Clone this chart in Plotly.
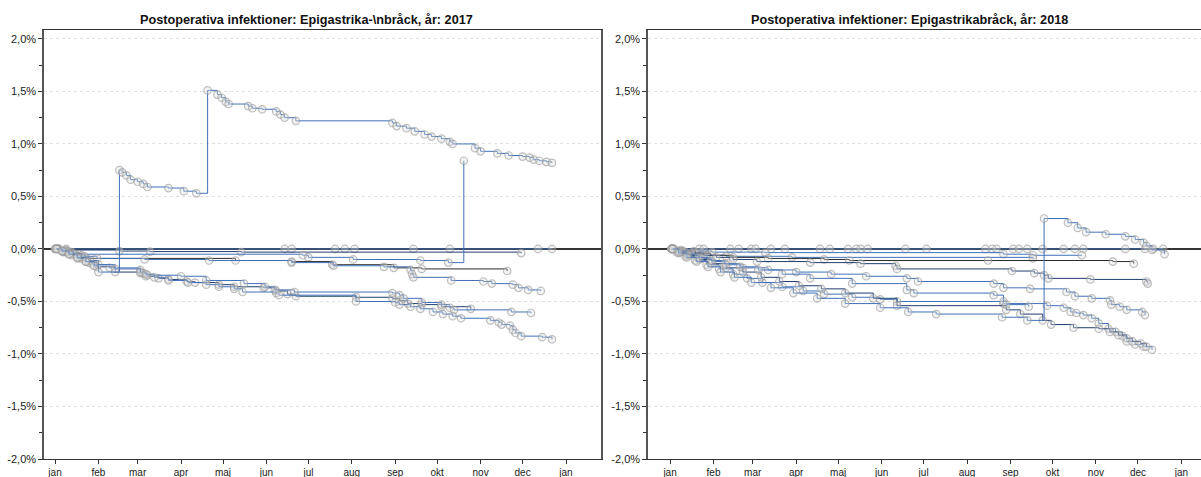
import pandas as pd
import plotly.graph_objects as go

# ---------------- data: 2017 panel (day of year, value in %) ----------------
L0_days = [0, 8, 164, 169, 200, 207, 214, 256, 282, 345, 355]
L0_vals = [0.0, 0.0, 0.0, 0.0, 0.0, 0.0, 0.0, 0.0, 0.0, 0.0, 0.0]

LA_days = [1, 5, 10, 16, 22, 28, 31, 46, 48, 51, 54, 59, 63, 66, 81, 92, 101,
           109, 116, 119, 122, 124, 138, 141, 148, 158, 161, 164, 172,
           241, 244, 251, 257, 264, 269, 276, 282, 284,
           300, 304, 316, 324, 334, 339, 342, 346, 351, 355]
LA_vals = [0.0, -0.02, -0.05, -0.08, -0.12, -0.16, -0.22,
           0.75, 0.73, 0.70, 0.66, 0.64, 0.62, 0.59, 0.58, 0.55, 0.53,
           1.51, 1.47, 1.44, 1.40, 1.38, 1.36, 1.34, 1.33, 1.31, 1.28, 1.25, 1.22,
           1.20, 1.17, 1.15, 1.12, 1.09, 1.07, 1.05, 1.02, 1.00,
           0.96, 0.93, 0.91, 0.89, 0.88, 0.87, 0.85, 0.84, 0.83, 0.82]

LB_days = [0, 8, 46, 68, 133, 333]
LB_vals = [0.0, -0.01, -0.02, -0.025, -0.03, -0.04]

LC_days = [3, 9, 12, 17, 177, 181, 213, 261, 281, 292]
LC_vals = [0.0, -0.02, -0.03, -0.05, -0.06, -0.08, -0.10, -0.11, -0.13, 0.84]

LD_days = [2, 6, 12, 19, 22, 129, 169, 198, 242, 262, 323]
LD_vals = [0.0, -0.02, -0.04, -0.06, -0.09, -0.11, -0.12, -0.15, -0.18, -0.19, -0.21]

LE_days = [2, 8, 14, 21, 30, 64, 110, 169, 199, 235, 254, 255, 256, 283, 306,
           312, 327, 331, 338, 347]
LE_vals = [0.0, -0.03, -0.05, -0.07, -0.09, -0.10, -0.11, -0.13, -0.16, -0.17,
           -0.20, -0.24, -0.27, -0.30, -0.31, -0.33, -0.34, -0.37, -0.39, -0.40]

LF_days = [1, 6, 12, 18, 24, 30, 43, 61, 65, 74, 81, 94, 100, 117, 128, 149,
           158, 166, 172, 215, 241, 246, 252, 262, 276, 297]
LF_vals = [0.0, -0.03, -0.06, -0.09, -0.13, -0.17, -0.22, -0.23, -0.26, -0.28,
           -0.29, -0.31, -0.32, -0.34, -0.36, -0.37, -0.40, -0.43, -0.45, -0.46,
           -0.47, -0.49, -0.52, -0.53, -0.55, -0.57]

LG_days = [2, 7, 13, 19, 25, 31, 39, 61, 63, 66, 90, 108, 135, 150, 157, 171,
           241, 246, 249, 262, 276, 282, 285, 326, 340]
LG_vals = [0.0, -0.02, -0.05, -0.08, -0.11, -0.15, -0.18, -0.20, -0.23, -0.25,
           -0.26, -0.30, -0.33, -0.36, -0.39, -0.41, -0.42, -0.44, -0.47, -0.51,
           -0.53, -0.56, -0.58, -0.60, -0.61]

LH_days = [1, 5, 10, 16, 22, 27, 43, 61, 65, 71, 81, 95, 108, 117, 128, 134,
           158, 160, 215, 243, 246, 254, 261, 270, 277, 284, 290,
           311, 317, 319, 325, 327, 329, 333, 348, 355]
LH_vals = [0.0, -0.02, -0.05, -0.09, -0.12, -0.15, -0.19, -0.22, -0.24, -0.27,
           -0.30, -0.32, -0.34, -0.36, -0.38, -0.41, -0.42, -0.44, -0.50, -0.51,
           -0.53, -0.55, -0.57, -0.60, -0.62, -0.64, -0.66,
           -0.68, -0.70, -0.72, -0.73, -0.77, -0.80, -0.83, -0.84, -0.86]

# ---------------- data: 2018 panel ----------------
R0_days = [1, 21, 24, 43, 49, 58, 61, 72, 82, 107, 114, 127, 133, 136, 141, 168,
           183, 225, 230, 233, 245, 249, 255, 266, 281, 289, 295, 325, 339, 345, 352]
R0_vals = [0.0] * len(R0_days)

RA_days = [1, 8, 17, 30, 68, 238, 259, 294]
RA_vals = [0.0, -0.01, -0.02, -0.03, -0.035, -0.05, -0.06, -0.06]

RB_days = [2, 6, 11, 18, 26, 40, 87, 259]
RB_vals = [0.0, -0.02, -0.03, -0.05, -0.06, -0.07, -0.08, -0.09]

RC_days = [2, 9, 18, 29, 45, 70, 110, 128, 227, 316, 331]
RC_vals = [0.0, -0.02, -0.04, -0.06, -0.08, -0.09, -0.10, -0.11, -0.11, -0.12, -0.14]

RD_days = [2, 6, 12, 19, 27, 36, 46, 58, 72, 88, 105, 125, 150, 170, 190, 237, 255,
           267, 284, 291, 297, 311, 325, 332, 338, 340, 344, 353]
RD_vals = [0.0, -0.04, -0.08, -0.12, -0.17, -0.22, -0.27, -0.32, -0.37, -0.42,
           -0.47, -0.52, -0.56, -0.60, -0.62, -0.65, -0.68,
           0.29, 0.25, 0.20, 0.16, 0.14, 0.12, 0.09, 0.06, 0.03, -0.01, -0.05]

RE_days = [3, 8, 15, 24, 33, 45, 62, 100, 136, 161, 162, 244, 260, 267, 270, 300,
           340, 341]
RE_vals = [0.0, -0.02, -0.04, -0.06, -0.08, -0.10, -0.12, -0.13, -0.14, -0.16,
           -0.19, -0.21, -0.23, -0.25, -0.28, -0.29, -0.31, -0.33]

RF_days = [2, 7, 14, 22, 30, 40, 52, 70, 90, 115, 140, 169, 177, 231, 238, 257,
           283, 289, 301, 314, 315, 321, 326, 337, 339]
RF_vals = [0.0, -0.03, -0.06, -0.09, -0.12, -0.15, -0.18, -0.20, -0.22, -0.24,
           -0.26, -0.28, -0.31, -0.33, -0.37, -0.38, -0.41, -0.45, -0.47, -0.49,
           -0.53, -0.55, -0.58, -0.60, -0.63]

RG_days = [1, 5, 11, 18, 26, 35, 45, 55, 66, 80, 95, 110, 130, 150, 162, 238,
           269, 281, 286, 290, 295, 301, 306, 313, 318, 323, 326, 332, 338, 344]
RG_vals = [0.0, -0.03, -0.07, -0.11, -0.15, -0.19, -0.24, -0.28, -0.32, -0.36,
           -0.40, -0.43, -0.46, -0.48, -0.50, -0.52, -0.54, -0.56, -0.60, -0.61,
           -0.63, -0.66, -0.71, -0.76, -0.79, -0.83, -0.88, -0.91, -0.93, -0.96]

RH_days = [2, 7, 13, 21, 30, 40, 52, 65, 78, 92, 108, 125, 145, 162, 240, 250,
           266, 272, 288, 306, 314, 320, 326, 330, 336, 340]
RH_vals = [0.0, -0.03, -0.06, -0.10, -0.14, -0.18, -0.22, -0.27, -0.31, -0.35,
           -0.38, -0.42, -0.47, -0.54, -0.58, -0.62, -0.68, -0.72, -0.75, -0.76,
           -0.79, -0.82, -0.85, -0.88, -0.90, -0.93]

RI_days = [1, 6, 12, 20, 29, 39, 50, 63, 80, 100, 130, 169, 174, 231, 238, 240, 256]
RI_vals = [0.0, -0.02, -0.05, -0.08, -0.11, -0.14, -0.17, -0.20, -0.24, -0.28,
           -0.33, -0.39, -0.42, -0.44, -0.50, -0.53, -0.55]

# tick labels
MONTHS = ["jan", "feb", "mar", "apr", "maj", "jun", "jul", "aug", "sep", "okt",
          "nov", "dec", "jan"]
Y_TICKS = [-2.0, -1.5, -1.0, -0.5, 0.0, 0.5, 1.0, 1.5, 2.0]
Y_LABELS = ["-2,0%", "-1,5%", "-1,0%", "-0,5%", "0,0%", "0,5%", "1,0%", "1,5%", "2,0%"]
Y_MINOR = [-1.75, -1.25, -0.75, -0.25, 0.25, 0.75, 1.25, 1.75]

TITLE_2017 = "Postoperativa infektioner: Epigastrika-\\nbråck, år: 2017"
TITLE_2018 = "Postoperativa infektioner: Epigastrikabråck, år: 2018"

# ---------------- styling ----------------
BLUE = "#3f70b8"
NAVY = "#1f3c70"
DARK = "#2a2a2a"
W, H = 1201, 477

left_series = [
    (L0_days, L0_vals, BLUE), (LB_days, LB_vals, NAVY), (LC_days, LC_vals, BLUE),
    (LD_days, LD_vals, DARK), (LE_days, LE_vals, BLUE), (LF_days, LF_vals, NAVY),
    (LG_days, LG_vals, BLUE), (LH_days, LH_vals, BLUE), (LA_days, LA_vals, BLUE),
]
right_series = [
    (R0_days, R0_vals, BLUE), (RA_days, RA_vals, BLUE), (RB_days, RB_vals, BLUE),
    (RC_days, RC_vals, DARK), (RE_days, RE_vals, NAVY), (RF_days, RF_vals, BLUE),
    (RG_days, RG_vals, BLUE), (RH_days, RH_vals, NAVY), (RI_days, RI_vals, BLUE),
    (RD_days, RD_vals, BLUE),
]


def to_dates(year, days):
    return pd.Timestamp(f"{year}-01-01") + pd.to_timedelta(days, unit="D")


fig = go.Figure()
marker = dict(symbol="circle", size=7.5, color="rgba(220,220,220,0.35)",
              line=dict(color="rgba(150,150,150,0.6)", width=1.2))

for days, vals, col in left_series:
    fig.add_trace(go.Scatter(x=to_dates(2017, days), y=vals, mode="lines+markers",
                             line=dict(shape="hv", color=col, width=1), marker=marker,
                             xaxis="x", yaxis="y", hoverinfo="skip", showlegend=False))
for days, vals, col in right_series:
    fig.add_trace(go.Scatter(x=to_dates(2018, days), y=vals, mode="lines+markers",
                             line=dict(shape="hv", color=col, width=1), marker=marker,
                             xaxis="x2", yaxis="y2", hoverinfo="skip", showlegend=False))

font = dict(family="Liberation Sans, Arial, sans-serif", size=11, color="#222")
ydom = [1 - 459 / H, 1 - 30 / H]


def xaxis(dom, year, rng):
    ticks = [f"{year}-{m:02d}-01" for m in range(1, 13)] + [f"{year + 1}-01-01"]
    return dict(domain=dom, type="date", range=rng, tickvals=ticks, ticktext=MONTHS,
                ticks="outside", ticklen=4, tickcolor="#333", tickfont=dict(size=10),
                showgrid=False, zeroline=False, showline=True, linecolor="#333",
                linewidth=1, mirror=True, automargin=False, fixedrange=True)


def yaxis(anchor):
    return dict(domain=ydom, range=[-2.0, 2.085], tickvals=Y_TICKS, ticktext=Y_LABELS,
                ticks="outside", ticklen=4, tickcolor="#333", tickfont=dict(size=11),
                showgrid=True, gridcolor="#e0e0e0", griddash="3px,3px", gridwidth=1,
                zeroline=True, zerolinecolor="#333", zerolinewidth=2,
                showline=True, linecolor="#555", linewidth=1.5, mirror=True,
                minor=dict(tickvals=Y_MINOR, ticks="outside", ticklen=3,
                           tickcolor="#333", showgrid=False),
                anchor=anchor, automargin=False, fixedrange=True)


fig.update_layout(
    width=W, height=H, margin=dict(l=0, r=0, t=0, b=0, autoexpand=False),
    paper_bgcolor="white", plot_bgcolor="white", font=font, showlegend=False,
    xaxis=xaxis([44 / W, 601 / W], 2017, ["2016-12-24 03:00", "2018-01-26"]),
    yaxis=yaxis("x"),
    xaxis2=xaxis([648 / W, 1.0], 2018, ["2017-12-16 06:00", "2019-01-15"]),
    yaxis2=yaxis("x2"),
    annotations=[
        dict(text=f"<b>{TITLE_2017}</b>", x=306 / W, y=1 - 20 / H, xref="paper",
             yref="paper", showarrow=False, xanchor="center", yanchor="middle",
             font=dict(size=12.7, color="#111")),
        dict(text=f"<b>{TITLE_2018}</b>", x=909 / W, y=1 - 20 / H, xref="paper",
             yref="paper", showarrow=False, xanchor="center", yanchor="middle",
             font=dict(size=12.7, color="#111")),
    ],
)

fig.write_html("out.html", config={"displayModeBar": False},
               post_script="document.body.style.margin='0';"
                           "document.body.style.overflow='hidden';")
